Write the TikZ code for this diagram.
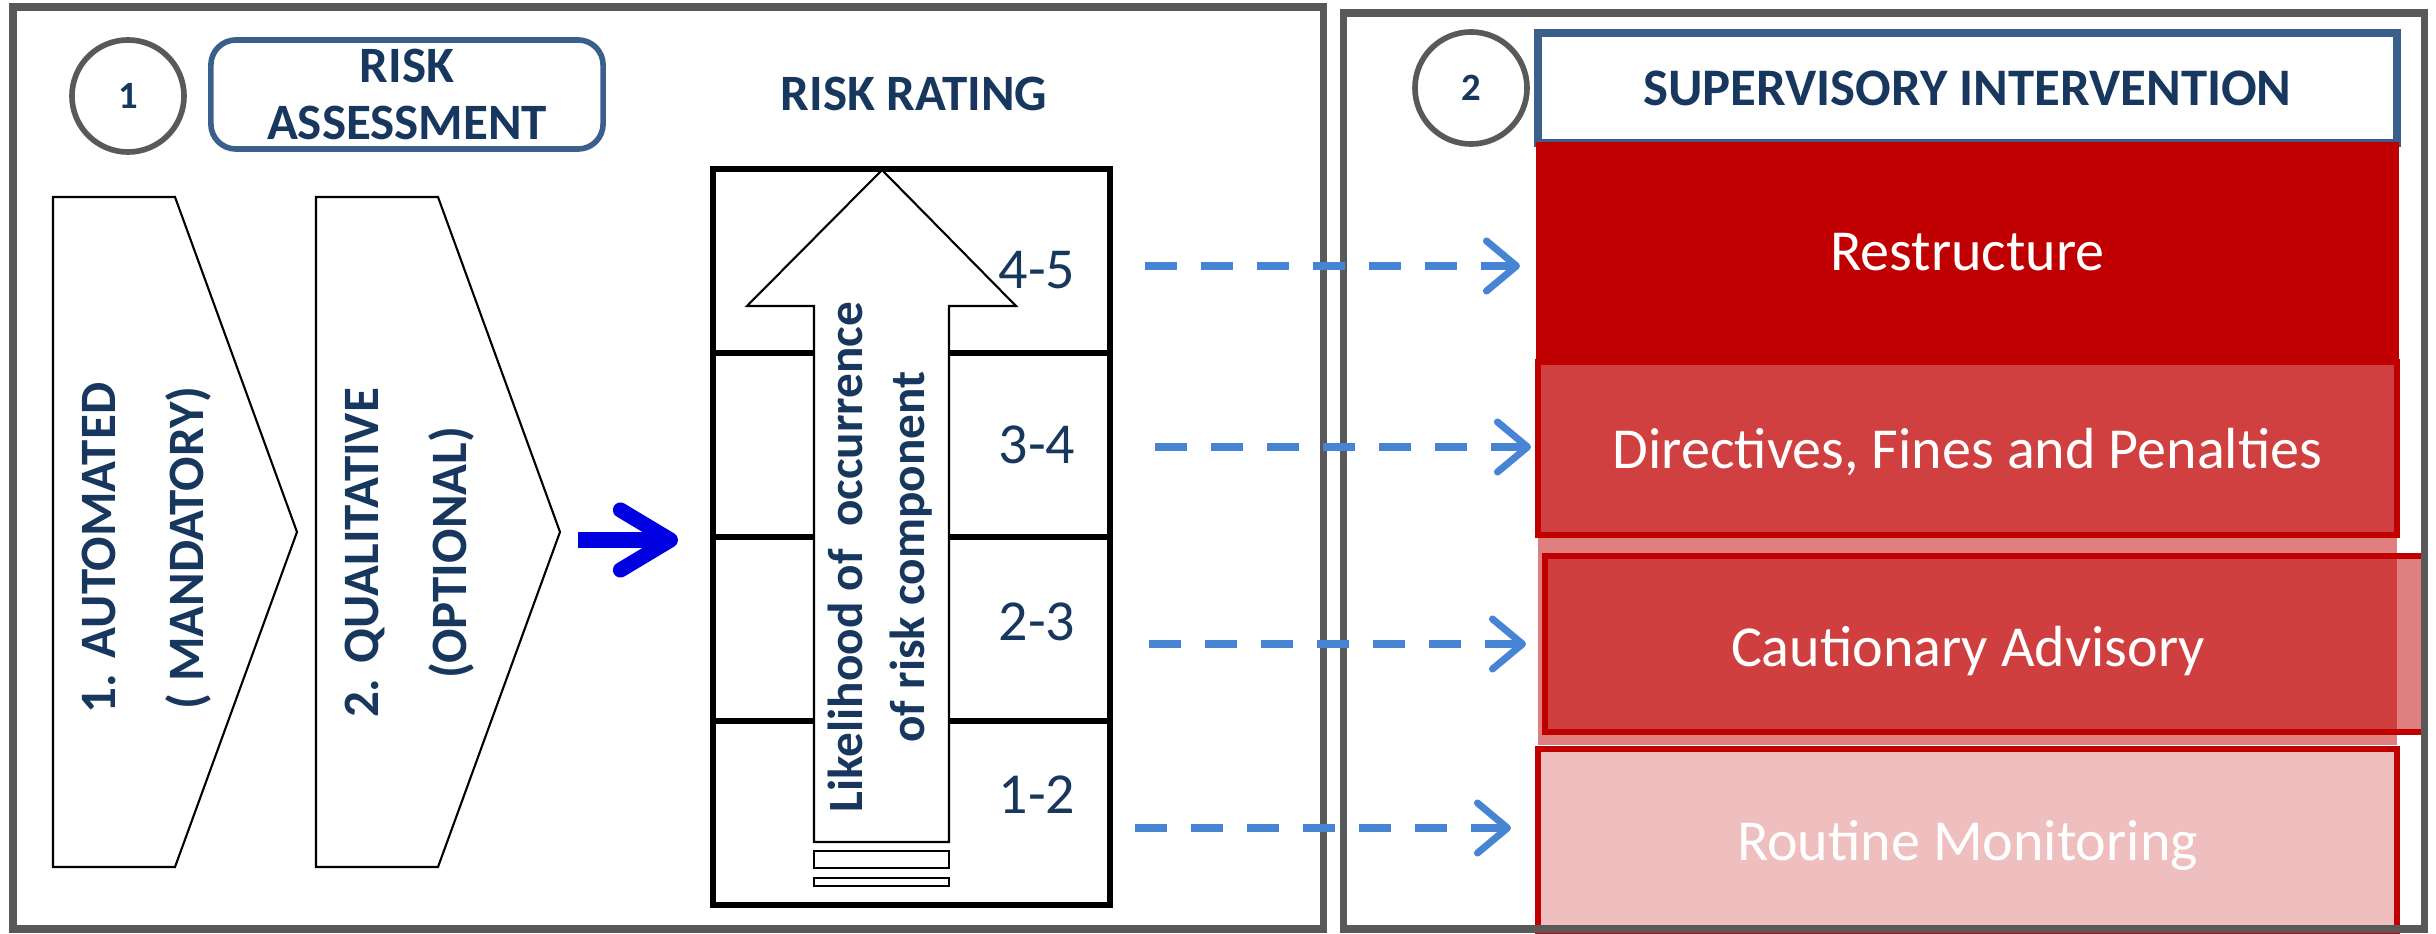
\documentclass[tikz,border=0pt]{standalone}
\usepackage{fontspec}
\setmainfont{Carlito}
\definecolor{RateNavy}{HTML}{17375E}
\definecolor{RateBlue}{HTML}{3A5F8B}
\definecolor{RateGrey}{HTML}{595959}
\definecolor{RiskRed}{HTML}{C00000}
\definecolor{LinkBlue}{HTML}{4785D4}
\definecolor{PushBlue}{RGB}{0,0,225}
\usetikzlibrary{arrows.meta, positioning}

\begin{document}
\begin{tikzpicture}[x=0.01cm, y=-0.01cm, >=Stealth,
    panel/.style={draw=RateGrey, line width=2pt},
    badge/.style={circle, draw=RateGrey, line width=1.6pt, minimum size=1.12cm,
                  inner sep=0pt, font=\fontsize{11}{13}\selectfont\bfseries,
                  text=RateNavy},
    headtext/.style={font=\fontsize{14.5}{16}\selectfont\bfseries,
                     text=RateNavy, align=center},
    chevron/.style={draw, line width=0.6pt, fill=white},
    stage/.style={rotate=90, align=center, text=RateNavy,
                  font=\fontsize{14.5}{25}\selectfont\bfseries},
    band/.style={font=\fontsize{16.5}{19}\selectfont, text=RateNavy},
    action/.style={draw=RiskRed, line width=1.7pt, minimum width=8.59cm,
                   font=\fontsize{16.5}{20}\selectfont, text=white,
                   text depth=0pt, inner sep=0pt},
    link/.style={LinkBlue, line width=2pt, dash pattern=on 0.32cm off 0.24cm,
                 -{Straight Barb[length=0.3cm, width=0.5cm, round]}}]
  \useasboundingbox (0,0) rectangle (2436,934);

  % Assessment side
  \node[badge] (one) at (128,96) {1};
  \node[headtext, draw=RateBlue, line width=1.6pt, rounded corners=0.25cm,
        minimum width=3.92cm, minimum height=1.09cm, inner sep=0pt]
    (assess) at (407,94.5) {RISK\\ASSESSMENT};
  \node[headtext] (rating) at (914,94) {RISK RATING};

  \draw[chevron] (53,197) -- (175,197) -- (297,532) -- (175,867) -- (53,867) -- cycle;
  \draw[chevron] (316,197) -- (438,197) -- (560,532) -- (438,867) -- (316,867) -- cycle;
  \node[stage] (auto) at (147,548) {1. AUTOMATED\\( MANDATORY)};
  \node[stage] (qual) at (410,553) {2. QUALITATIVE\\(OPTIONAL)};

  \coordinate (push) at (578,540);
  \coordinate (pushend) at (678,540);
  \draw[PushBlue, line width=4.3pt,
        -{Straight Barb[length=0.5cm, width=0.6cm, round]}] (push) -- (pushend);

  % Rating scale
  \node[draw, line width=1.6pt, minimum width=3.97cm, minimum height=7.36cm]
    (ratebox) at (911.5,537) {};
  \foreach \y in {353,537,721}
    \draw[line width=1.5pt] (713,\y) -- (1110,\y);

  \draw[fill=white, line width=0.6pt] (814,842) -- (814,306) -- (747,306)
    -- (882,170) -- (1016,306) -- (949,306) -- (949,842) -- cycle;
  \draw[line width=0.6pt] (814,851) rectangle (949,868);
  \draw[line width=0.6pt] (814,878) rectangle (949,886);
  \node[rotate=90, align=center, text=RateNavy,
        font=\fontsize{14}{17.5}\selectfont\bfseries]
    (likely) at (880,557) {Likelihood of\ \ occurrence\\of risk component};

  \node[band] (r45) at (1037,270) {4-5};
  \node[band] (r34) at (1037,445) {3-4};
  \node[band] (r23) at (1037,622) {2-3};
  \node[band] (r12) at (1037,795) {1-2};

  % Intervention side
  \node[badge] (two) at (1471,88) {2};
  \node[headtext, draw=RateBlue, line width=2.2pt, minimum width=8.59cm,
        minimum height=1.1cm, inner sep=0pt, font=\fontsize{15}{17}\selectfont\bfseries]
    (superv) at (1967.5,88) {SUPERVISORY INTERVENTION};

  \node[action, fill=RiskRed, line width=0.6pt, minimum width=8.61cm,
        minimum height=2.17cm] (restr) at (1967.5,251.5) {Restructure};
  \node[action, fill=RiskRed!75, minimum height=1.73cm]
    (direct) at (1967.5,448.5) {Directives, Fines and Penalties};

  \fill[RiskRed, fill opacity=0.5] (1538,538) rectangle (2397,745);
  \draw[RiskRed, line width=1.7pt, fill=RiskRed, fill opacity=0.5]
    (1545,556) rectangle (2424,732);
  \node[action, draw=none] (caution) at (1968,646) {Cautionary Advisory};

  \node[action, fill=RiskRed!25, minimum height=1.82cm]
    (routine) at (1967.5,840) {Routine Monitoring};

  % Panel frames
  \draw[panel] (13,7) rectangle (1323.5,929);
  \draw[panel] (1343.5,13) rectangle (2424.5,929);

  % Rating to intervention
  \coordinate (l45) at (1145,266);
  \coordinate (l34) at (1155,447);
  \coordinate (l23) at (1149,644);
  \coordinate (l12) at (1135,828);
  \coordinate (a45) at (1520,266);
  \coordinate (a34) at (1531,447);
  \coordinate (a23) at (1526,644);
  \coordinate (a12) at (1511,828);
  \draw[link] (l45) -- (a45);
  \draw[link] (l34) -- (a34);
  \draw[link] (l23) -- (a23);
  \draw[link] (l12) -- (a12);
\end{tikzpicture}
\end{document}
